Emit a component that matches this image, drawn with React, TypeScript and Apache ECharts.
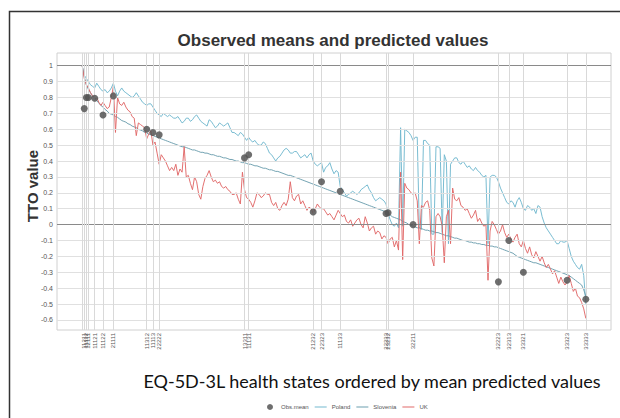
import React, { useEffect, useRef } from "react";
import * as echarts from "echarts";

// Predicted values for the 243 EQ-5D-3L states, ordered by mean predicted value
const poland = [
  1.00, 0.94, 0.92, 0.90, 0.88, 0.87, 0.86, 0.89, 0.87, 0.85,
  0.84, 0.85, 0.83, 0.84, 0.86, 0.89, 0.84, 0.81, 0.84, 0.86,
  0.84, 0.83, 0.82, 0.81, 0.80, 0.81, 0.83, 0.81, 0.79, 0.77,
  0.76, 0.75, 0.76, 0.76, 0.74, 0.72, 0.70, 0.69, 0.68, 0.70,
  0.69, 0.68, 0.69, 0.68, 0.67, 0.67, 0.68, 0.66, 0.64, 0.65,
  0.67, 0.67, 0.65, 0.66, 0.68, 0.69, 0.67, 0.65, 0.64, 0.63,
  0.62, 0.66, 0.65, 0.63, 0.61, 0.62, 0.64, 0.63, 0.62, 0.63,
  0.64, 0.61, 0.58, 0.58, 0.57, 0.56, 0.58, 0.57, 0.55, 0.53,
  0.55, 0.53, 0.52, 0.53, 0.51, 0.50, 0.50, 0.52, 0.51, 0.48,
  0.45, 0.44, 0.42, 0.40, 0.42, 0.43, 0.45, 0.47, 0.48, 0.47,
  0.45, 0.45, 0.46, 0.46, 0.44, 0.42, 0.43, 0.44, 0.42, 0.44,
  0.45, 0.40, 0.38, 0.37, 0.38, 0.39, 0.33, 0.36, 0.37, 0.39,
  0.35, 0.32, 0.34, 0.33, 0.24, 0.22, 0.20, 0.18, 0.19, 0.20,
  0.21, 0.20, 0.19, 0.20, 0.22, 0.23, 0.24, 0.25, 0.22, 0.20,
  0.17, 0.15, 0.16, 0.17, 0.16, 0.15, 0.13, 0.07, 0.03, 0.00,
  -0.01, 0.01, -0.02, 0.61, -0.01, 0.60, 0.59, 0.58, 0.56, 0.53,
  0.55, 0.55, -0.02, -0.03, 0.53, 0.53, 0.51, 0.50, -0.06, -0.06,
  0.49, 0.49, 0.48, -0.05, 0.44, 0.40, -0.12, 0.38, 0.40, 0.42,
  0.42, 0.39, 0.38, 0.40, 0.38, 0.36, 0.37, 0.35, 0.34, 0.36,
  0.34, 0.33, 0.31, 0.30, 0.31, -0.12, 0.30, 0.31, 0.31, 0.30,
  0.27, 0.23, 0.20, 0.17, 0.14, 0.13, 0.15, 0.14, 0.11, 0.15,
  0.17, 0.14, 0.10, 0.09, 0.12, 0.11, 0.09, 0.10, 0.07, 0.12,
  0.11, 0.05, 0.01, -0.02, -0.04, -0.06, -0.08, -0.10, -0.12, -0.12,
  -0.10, -0.11, -0.11, -0.10, -0.15, -0.20, -0.23, -0.25, -0.27, -0.28,
  -0.25, -0.32, -0.50,
];

const slovenia = [
  1.00, 0.93, 0.88, 0.85, 0.83, 0.81, 0.795, 0.78, 0.765, 0.75,
  0.74, 0.725, 0.715, 0.70, 0.695, 0.69, 0.68, 0.675, 0.665, 0.655,
  0.65, 0.645, 0.635, 0.63, 0.62, 0.615, 0.61, 0.60, 0.595, 0.59,
  0.58, 0.575, 0.57, 0.565, 0.56, 0.555, 0.55, 0.545, 0.54, 0.535,
  0.53, 0.525, 0.52, 0.515, 0.51, 0.505, 0.50, 0.495, 0.49, 0.49,
  0.485, 0.48, 0.475, 0.47, 0.47, 0.465, 0.46, 0.455, 0.455, 0.45,
  0.45, 0.445, 0.44, 0.44, 0.435, 0.43, 0.43, 0.425, 0.42, 0.42,
  0.415, 0.41, 0.41, 0.405, 0.40, 0.40, 0.395, 0.39, 0.39, 0.385,
  0.38, 0.38, 0.375, 0.37, 0.37, 0.365, 0.36, 0.355, 0.355, 0.35,
  0.345, 0.345, 0.34, 0.335, 0.335, 0.33, 0.325, 0.32, 0.315, 0.31,
  0.31, 0.305, 0.30, 0.295, 0.29, 0.285, 0.28, 0.275, 0.27, 0.265,
  0.26, 0.255, 0.25, 0.245, 0.24, 0.235, 0.23, 0.225, 0.22, 0.215,
  0.21, 0.205, 0.20, 0.195, 0.19, 0.185, 0.18, 0.175, 0.17, 0.165,
  0.16, 0.155, 0.15, 0.145, 0.14, 0.135, 0.13, 0.125, 0.12, 0.115,
  0.11, 0.105, 0.10, 0.095, 0.09, 0.085, 0.08, 0.07, 0.06, 0.05,
  0.045, 0.04, 0.035, 0.03, 0.02, 0.015, 0.01, 0.00, -0.005, -0.01,
  -0.015, -0.02, -0.02, -0.025, -0.03, -0.035, -0.035, -0.04, -0.04, -0.045,
  -0.05, -0.05, -0.055, -0.06, -0.065, -0.07, -0.07, -0.075, -0.08, -0.085,
  -0.085, -0.09, -0.095, -0.10, -0.10, -0.105, -0.11, -0.11, -0.115, -0.115,
  -0.12, -0.12, -0.125, -0.125, -0.13, -0.13, -0.135, -0.135, -0.14, -0.14,
  -0.145, -0.15, -0.155, -0.16, -0.165, -0.17, -0.175, -0.18, -0.19, -0.20,
  -0.205, -0.21, -0.215, -0.22, -0.225, -0.23, -0.235, -0.24, -0.24, -0.245,
  -0.25, -0.255, -0.26, -0.265, -0.27, -0.275, -0.28, -0.285, -0.29, -0.295,
  -0.30, -0.305, -0.31, -0.315, -0.32, -0.33, -0.34, -0.35, -0.36, -0.37,
  -0.38, -0.41, -0.45,
];

const uk = [
  1.00, 0.92, 0.88, 0.86, 0.83, 0.81, 0.79, 0.80, 0.77, 0.75,
  0.77, 0.75, 0.73, 0.74, 0.80, 0.87, 0.58, 0.80, 0.76, 0.75,
  0.77, 0.74, 0.72, 0.71, 0.68, 0.67, 0.56, 0.64, 0.63, 0.62,
  0.61, 0.54, 0.57, 0.59, 0.50, 0.52, 0.45, 0.38, 0.44, 0.42,
  0.40, 0.37, 0.34, 0.36, 0.34, 0.38, 0.31, 0.35, 0.33, 0.49,
  0.30, 0.31, 0.26, 0.22, 0.30, 0.27, 0.19, 0.16, 0.24, 0.29,
  0.31, 0.34, 0.30, 0.27, 0.28, 0.26, 0.27, 0.24, 0.23, 0.24,
  0.22, 0.21, 0.19, 0.19, 0.20, 0.16, 0.13, 0.33, 0.22, 0.17,
  0.16, 0.14, 0.11, 0.15, 0.20, 0.19, 0.17, 0.18, 0.20, 0.19,
  0.19, 0.14, 0.12, 0.14, 0.10, 0.09, 0.12, 0.14, 0.12, 0.16,
  0.27, 0.17, 0.15, 0.18, 0.19, 0.13, 0.15, 0.12, 0.09, 0.11,
  0.10, 0.07, 0.10, 0.13, 0.11, 0.10, 0.10, 0.08, 0.06, 0.07,
  0.05, 0.03, 0.06, 0.09, 0.07, 0.05, 0.06, 0.02, 0.01, 0.03,
  -0.01, 0.01, 0.03, 0.04, 0.00, -0.02, 0.05, 0.01, -0.04, -0.02,
  -0.01, -0.06, -0.04, -0.05, -0.09, -0.07, -0.08, -0.12, -0.09, -0.08,
  -0.14, -0.10, -0.16, 0.33, -0.22, 0.26, 0.23, 0.22, 0.20, 0.19,
  0.20, 0.15, -0.12, 0.12, 0.11, 0.14, 0.15, 0.09, -0.21, -0.26,
  0.05, 0.07, 0.05, -0.01, -0.24, 0.05, 0.09, -0.12, 0.23, 0.16,
  0.15, 0.17, 0.12, 0.11, 0.09, 0.10, 0.07, 0.04, 0.06, 0.09,
  0.02, 0.04, 0.01, -0.01, 0.00, -0.35, -0.04, 0.02, 0.00, -0.03,
  -0.06, -0.04, 0.00, -0.05, -0.08, -0.06, -0.09, -0.11, -0.08, -0.06,
  -0.12, -0.14, -0.10, -0.15, -0.18, -0.14, -0.19, -0.21, -0.17, -0.20,
  -0.23, -0.20, -0.24, -0.27, -0.25, -0.28, -0.31, -0.29, -0.33, -0.37,
  -0.33, -0.36, -0.38, -0.36, -0.32, -0.37, -0.42, -0.40, -0.45, -0.46,
  -0.49, -0.53, -0.59,
];

// Labelled (observed) health states: rank position and state code
const tickIndex = [1, 2, 3, 4, 7, 11, 16, 32, 35, 38, 79, 81, 112, 116, 125, 147, 148, 160, 201, 206, 213, 234, 243];
const tickLabels = [
  "11111", "11211", "11112", "12111", "11121", "11122", "21111", "11312", "11113", "22222",
  "13311", "11131", "21232", "22323", "11133", "22233", "23232", "32211", "32223", "32313",
  "33321", "33323", "33333",
];

// Observed means
const obsIndex = [2, 3, 4, 7, 11, 16, 32, 35, 38, 79, 81, 112, 116, 125, 147, 148, 160, 201, 206, 213, 234, 243];
const obsMean = [0.73, 0.80, 0.80, 0.795, 0.69, 0.81, 0.60, 0.58, 0.565, 0.42, 0.44, 0.08, 0.27, 0.21, 0.07, 0.075, 0.00, -0.36, -0.10, -0.30, -0.35, -0.47];

const yTicks = [-0.6, -0.5, -0.4, -0.3, -0.2, -0.1, 0, 0.1, 0.2, 0.3, 0.4, 0.5, 0.6, 0.7, 0.8, 0.9, 1];

export default function App() {
  const ref = useRef<HTMLDivElement>(null);
  useEffect(() => {
    const chart = echarts.init(ref.current!, null, { renderer: "svg" });
    const font = '"Liberation Sans", Arial, sans-serif';
    const n = poland.length;
    const xMin = 1 - 0.05 * (n - 1);
    const xMax = n + 0.05 * (n - 1);
    const labelMap: Record<number, string> = {};
    tickIndex.forEach((v, i) => (labelMap[v] = tickLabels[i]));
    const toPts = (arr: number[]) => arr.map((v, i) => [i + 1, v]);
    const lineIcon = "path://M0 4.5h12v1H0z";

    const gridLines: any[] = [];
    yTicks.forEach((v) => {
      const major = v === 0 || v === 1;
      gridLines.push({
        yAxis: v,
        lineStyle: { color: major ? "#8a8a8a" : "#e0e0e0", width: major ? 1.2 : 1, type: "solid" },
      });
    });
    tickIndex.forEach((v) => {
      gridLines.push({ xAxis: v, lineStyle: { color: "#d9d9d9", width: 1, type: "solid" } });
    });

    chart.setOption({
      animation: false,
      backgroundColor: "#ffffff",
      grid: { left: 57, right: 9, top: 53, bottom: 88, show: true, borderColor: "#d0d0d0", borderWidth: 1, backgroundColor: "transparent" },
      xAxis: {
        type: "value",
        min: xMin,
        max: xMax,
        splitLine: { show: false },
        axisLine: { show: false },
        axisTick: { show: true, customValues: tickIndex, length: 3, lineStyle: { color: "#999" } },
        axisLabel: {
          customValues: tickIndex,
          rotate: 90,
          fontSize: 6,
          color: "#555",
          fontFamily: font,
          margin: 3,
          formatter: (v: number) => labelMap[Math.round(v)] || "",
        },
      },
      yAxis: {
        type: "value",
        min: -0.663,
        max: 1.08,
        splitLine: { show: false },
        axisLine: { show: false },
        axisTick: { show: true, customValues: yTicks, length: 3, lineStyle: { color: "#999" } },
        axisLabel: {
          customValues: yTicks,
          fontSize: 7,
          color: "#555",
          fontFamily: font,
          margin: 4,
          formatter: (v: number) => String(Math.round(v * 10) / 10),
        },
      },
      legend: {
        top: 399,
        left: 262,
        itemWidth: 12,
        itemHeight: 6,
        itemGap: 6,
        textStyle: { fontSize: 6, color: "#555", fontFamily: font },
        data: [
          { name: "Obs.mean", icon: "circle" },
          { name: "Poland", icon: lineIcon },
          { name: "Slovenia", icon: lineIcon },
          { name: "UK", icon: lineIcon },
        ],
      },
      graphic: [
        {
          type: "rect",
          silent: true,
          z: -10,
          shape: { x: 9.5, y: 11.5, width: 700, height: 500 },
          style: { fill: "none", stroke: "#333", lineWidth: 1.5 },
        },
        {
          type: "text",
          x: 333,
          y: 40,
          style: {
            text: "Observed means and predicted values",
            font: "bold 17px " + font,
            fill: "#333",
            align: "center",
            verticalAlign: "middle",
          },
        },
        {
          type: "text",
          x: 32,
          y: 186,
          rotation: Math.PI / 2,
          style: {
            text: "TTO value",
            font: "bold 15px " + font,
            fill: "#333",
            align: "center",
            verticalAlign: "middle",
          },
        },
        {
          type: "text",
          x: 372,
          y: 381,
          style: {
            text: "EQ-5D-3L health states ordered by mean predicted values",
            font: '18px Lato, "Open Sans", sans-serif',
            fill: "#111",
            align: "center",
            verticalAlign: "middle",
          },
        },
      ],
      series: [
        {
          name: "grid",
          type: "line",
          data: [],
          z: 1,
          silent: true,
          markLine: { silent: true, symbol: "none", label: { show: false }, animation: false, data: gridLines },
        },
        {
          name: "Poland",
          type: "line",
          data: toPts(poland),
          symbol: "none",
          showSymbol: false,
          z: 3,
          color: "#72b8cf",
          lineStyle: { color: "#72b8cf", width: 1, opacity: 0.95 },
        },
        {
          name: "Slovenia",
          type: "line",
          data: toPts(slovenia),
          symbol: "none",
          showSymbol: false,
          z: 3,
          color: "#6b9eae",
          lineStyle: { color: "#6b9eae", width: 1, opacity: 0.95 },
        },
        {
          name: "UK",
          type: "line",
          data: toPts(uk),
          symbol: "none",
          showSymbol: false,
          z: 3,
          color: "#e06868",
          lineStyle: { color: "#e06868", width: 1, opacity: 0.95 },
        },
        {
          name: "Obs.mean",
          type: "scatter",
          data: obsIndex.map((v, i) => [v, obsMean[i]]),
          symbolSize: 7,
          z: 5,
          itemStyle: { color: "#555555", opacity: 0.85 },
        },
      ],
    });
    return () => chart.dispose();
  }, []);
  return (
    <div
      ref={ref}
      style={{ position: "fixed", left: 0, top: 0, width: 620, height: 418, background: "#fff" }}
    />
  );
}
